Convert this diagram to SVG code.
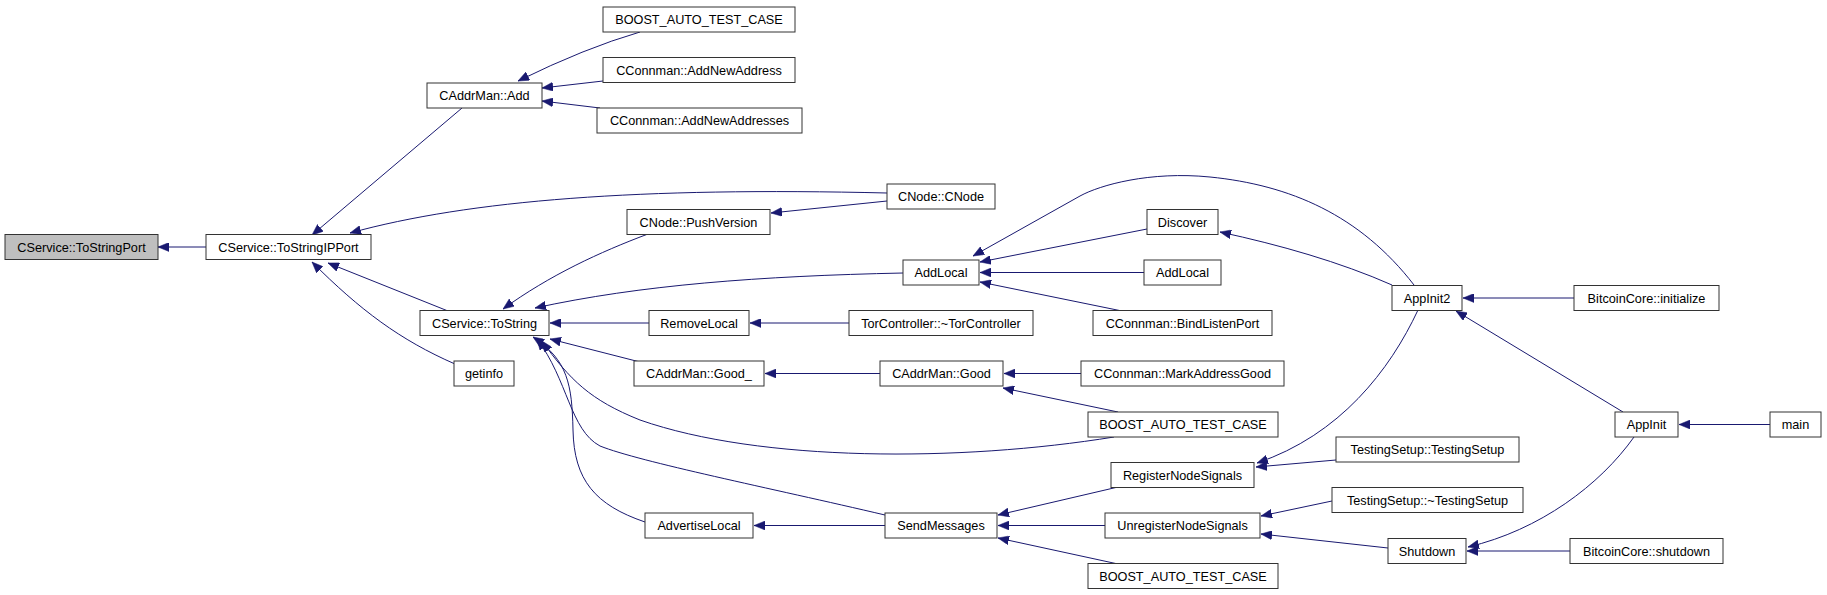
<svg xmlns="http://www.w3.org/2000/svg" width="1827" height="595" viewBox="0 0 1827 595">
<style>
.n rect{fill:#fff;stroke:#333;stroke-width:1}
.n.root rect{fill:#bfbfbf}
.n text{font-family:"Liberation Sans",Arial,Helvetica,sans-serif;font-size:12.7px;fill:#000;text-anchor:middle}
#edges path{fill:none;stroke:#191970;stroke-width:1;marker-end:url(#arr)}
</style>
<defs>
<marker id="arr" viewBox="0 0 11 9" refX="11" refY="4.5" markerWidth="11" markerHeight="9" markerUnits="userSpaceOnUse" orient="auto">
<path d="M0,0 L11,4.5 L0,9 z" fill="#191970" stroke="#191970" stroke-width="0.5"/>
</marker>
</defs>
<rect width="1827" height="595" fill="#fff"/>
<g id="edges">
<path d="M206,247 L158,247"/>
<path d="M462,108 L312,235"/>
<path d="M887,193 C640,187 470,200 350,233"/>
<path d="M448,311 L328,263"/>
<path d="M455,364 C400,340 360,310 312,262"/>
<path d="M640,32 Q585,48 518,81"/>
<path d="M603,81 L542,88"/>
<path d="M600,108 L542,101"/>
<path d="M648,234 C600,252 550,275 503,309"/>
<path d="M887,201 L771,213"/>
<path d="M903,273 C760,276 640,285 535,308"/>
<path d="M649,323 L550,323"/>
<path d="M640,362 L550,339"/>
<path d="M1114,437 C960,462 760,462 640,420 C590,400 570,380 542,341"/>
<path d="M885,515 C770,488 640,462 600,446 C570,430 568,380 537,339"/>
<path d="M645,522 C595,505 574,480 573,430 C572,385 568,360 533,337"/>
<path d="M1147,229 L980,262"/>
<path d="M1414,285 C1360,215 1290,185 1210,177 C1150,171 1100,185 1080,196 L973,256"/>
<path d="M1144,272.5 L980,272.5"/>
<path d="M1122,311 L980,282"/>
<path d="M849,323 L750,323"/>
<path d="M880,373.5 L765,373.5"/>
<path d="M1081,373.5 L1004,373.5"/>
<path d="M1118,412 L1003,388"/>
<path d="M885,525.5 L754,525.5"/>
<path d="M1118,487 L998,515"/>
<path d="M1105,525.5 L998,525.5"/>
<path d="M1118,564 L998,538"/>
<path d="M1392,285 C1340,262 1280,245 1220,232"/>
<path d="M1418,310 C1390,370 1340,435 1257,463"/>
<path d="M1336,460 L1256,467"/>
<path d="M1332,501 L1261,516"/>
<path d="M1388,548 L1261,534"/>
<path d="M1574,298 L1463,298"/>
<path d="M1623,412 L1456,311"/>
<path d="M1770,424.5 L1679,424.5"/>
<path d="M1634,437 C1600,485 1540,530 1468,547"/>
<path d="M1570,551 L1467,551"/>
</g>
<g id="n1" class="n root"><rect x="5" y="234.5" width="153" height="25"/><text x="81.5" y="251.5">CService::ToStringPort</text></g>
<g id="n2" class="n"><rect x="206" y="234.5" width="165" height="25"/><text x="288.5" y="251.5">CService::ToStringIPPort</text></g>
<g id="n3" class="n"><rect x="427" y="83" width="115" height="25"/><text x="484.5" y="100">CAddrMan::Add</text></g>
<g id="n4" class="n"><rect x="603" y="7" width="192" height="25"/><text x="699" y="24">BOOST_AUTO_TEST_CASE</text></g>
<g id="n5" class="n"><rect x="603" y="57.5" width="192" height="25"/><text x="699" y="74.5">CConnman::AddNewAddress</text></g>
<g id="n6" class="n"><rect x="597" y="108" width="205" height="25"/><text x="699.5" y="125">CConnman::AddNewAddresses</text></g>
<g id="n7" class="n"><rect x="887" y="184" width="108" height="25"/><text x="941" y="201">CNode::CNode</text></g>
<g id="n8" class="n"><rect x="627" y="209.5" width="143" height="25"/><text x="698.5" y="226.5">CNode::PushVersion</text></g>
<g id="n9" class="n"><rect x="420" y="310.5" width="129" height="25"/><text x="484.5" y="327.5">CService::ToString</text></g>
<g id="n10" class="n"><rect x="454" y="361" width="60" height="25"/><text x="484" y="378">getinfo</text></g>
<g id="n11" class="n"><rect x="903" y="260" width="76" height="25"/><text x="941" y="277">AddLocal</text></g>
<g id="n12" class="n"><rect x="1147" y="209.5" width="71" height="25"/><text x="1182.5" y="226.5">Discover</text></g>
<g id="n13" class="n"><rect x="1144" y="260" width="77" height="25"/><text x="1182.5" y="277">AddLocal</text></g>
<g id="n14" class="n"><rect x="649" y="310.5" width="100" height="25"/><text x="699" y="327.5">RemoveLocal</text></g>
<g id="n15" class="n"><rect x="849" y="310.5" width="184" height="25"/><text x="941" y="327.5">TorController::~TorController</text></g>
<g id="n16" class="n"><rect x="1093" y="310.5" width="179" height="25"/><text x="1182.5" y="327.5">CConnman::BindListenPort</text></g>
<g id="n17" class="n"><rect x="634" y="361" width="130" height="25"/><text x="699" y="378">CAddrMan::Good_</text></g>
<g id="n18" class="n"><rect x="880" y="361" width="123" height="25"/><text x="941.5" y="378">CAddrMan::Good</text></g>
<g id="n19" class="n"><rect x="1081" y="361" width="203" height="25"/><text x="1182.5" y="378">CConnman::MarkAddressGood</text></g>
<g id="n20" class="n"><rect x="1088" y="412" width="190" height="25"/><text x="1183" y="429">BOOST_AUTO_TEST_CASE</text></g>
<g id="n21" class="n"><rect x="1111" y="462.5" width="143" height="25"/><text x="1182.5" y="479.5">RegisterNodeSignals</text></g>
<g id="n22" class="n"><rect x="645" y="513" width="108" height="25"/><text x="699" y="530">AdvertiseLocal</text></g>
<g id="n23" class="n"><rect x="885" y="513" width="112" height="25"/><text x="941" y="530">SendMessages</text></g>
<g id="n24" class="n"><rect x="1105" y="513" width="155" height="25"/><text x="1182.5" y="530">UnregisterNodeSignals</text></g>
<g id="n25" class="n"><rect x="1088" y="563.5" width="190" height="25"/><text x="1183" y="580.5">BOOST_AUTO_TEST_CASE</text></g>
<g id="n26" class="n"><rect x="1392" y="285.5" width="70" height="25"/><text x="1427" y="302.5">AppInit2</text></g>
<g id="n27" class="n"><rect x="1574" y="285.5" width="145" height="25"/><text x="1646.5" y="302.5">BitcoinCore::initialize</text></g>
<g id="n28" class="n"><rect x="1615" y="412" width="63" height="25"/><text x="1646.5" y="429">AppInit</text></g>
<g id="n29" class="n"><rect x="1770" y="412" width="51" height="25"/><text x="1795.5" y="429">main</text></g>
<g id="n30" class="n"><rect x="1336" y="437" width="183" height="25"/><text x="1427.5" y="454">TestingSetup::TestingSetup</text></g>
<g id="n31" class="n"><rect x="1332" y="487.5" width="191" height="25"/><text x="1427.5" y="504.5">TestingSetup::~TestingSetup</text></g>
<g id="n32" class="n"><rect x="1388" y="538.5" width="78" height="25"/><text x="1427" y="555.5">Shutdown</text></g>
<g id="n33" class="n"><rect x="1570" y="538.5" width="153" height="25"/><text x="1646.5" y="555.5">BitcoinCore::shutdown</text></g>
</svg>
